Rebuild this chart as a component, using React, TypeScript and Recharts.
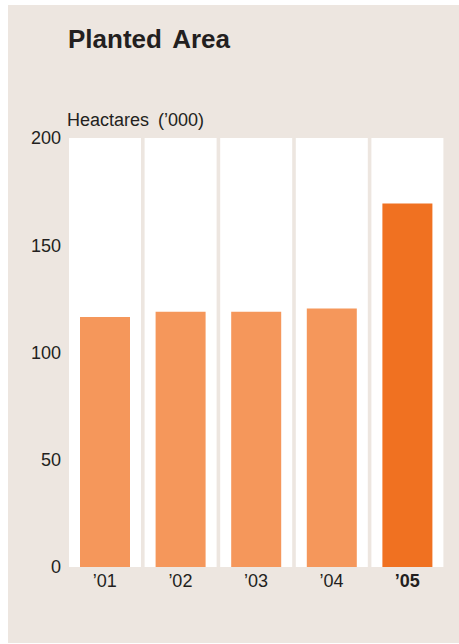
import { BarChart, Bar, XAxis, YAxis, Cell } from 'recharts'

const years = ['’01', '’02', '’03', '’04', '’05']
const hectares = [116.5, 119, 119, 120.5, 169.5]
const yTicks = [0, 50, 100, 150, 200]
const highlightYear = '’05'

const Y_MAX = 200
const data = years.map((year, i) => ({ year, hectares: hectares[i] }))

const TEXT = '#231f20'
const BG = '#ede6e0'
const BAR = '#f5975b'
const BAR_HI = '#f07121'

function YearTick(props: any) {
  const { x, y, payload } = props
  const hi = payload.value === highlightYear
  return (
    <text
      x={x}
      y={y}
      dy="0.71em"
      textAnchor="middle"
      fill={TEXT}
      fontSize={18}
      fontWeight={hi ? 'bold' : 'normal'}
    >
      {payload.value}
    </text>
  )
}

export default function App() {
  return (
    <div
      style={{
        position: 'absolute',
        left: 8,
        top: 5,
        width: 451,
        height: 638,
        background: BG,
        fontFamily: '"Liberation Sans", Arial, sans-serif',
        color: TEXT
      }}
    >
      {/* title + unit label */}
      <div
        style={{
          position: 'absolute',
          left: 60,
          top: 21,
          fontSize: 26,
          fontWeight: 'bold',
          lineHeight: 1,
          wordSpacing: 4,
          whiteSpace: 'nowrap'
        }}
      >
        Planted Area
      </div>
      <div
        style={{
          position: 'absolute',
          left: 59,
          top: 106,
          fontSize: 18,
          lineHeight: 1,
          wordSpacing: 4,
          whiteSpace: 'nowrap'
        }}
      >
        Heactares (’000)
      </div>

      <BarChart
        width={451}
        height={638}
        data={data}
        margin={{ top: 133, right: 14, left: 0, bottom: 46 }}
        style={{ position: 'absolute', left: 0, top: 0 }}
      >
        <XAxis xAxisId="cols" dataKey="year" hide />
        <XAxis
          dataKey="year"
          axisLine={false}
          tickLine={false}
          tickSize={0}
          tickMargin={7}
          height={30}
          interval={0}
          tick={<YearTick />}
        />
        <YAxis
          domain={[0, Y_MAX]}
          ticks={yTicks}
          width={59}
          axisLine={false}
          tickLine={false}
          tickSize={0}
          tickMargin={6}
          tick={{ fill: TEXT, fontSize: 18 }}
        />
        {/* white column behind each year */}
        <Bar
          xAxisId="cols"
          dataKey={() => Y_MAX}
          fill="#ffffff"
          barSize={72}
          isAnimationActive={false}
        />
        <Bar dataKey="hectares" barSize={50} isAnimationActive={false}>
          {data.map((d) => (
            <Cell key={d.year} fill={d.year === highlightYear ? BAR_HI : BAR} />
          ))}
        </Bar>
      </BarChart>
    </div>
  )
}
